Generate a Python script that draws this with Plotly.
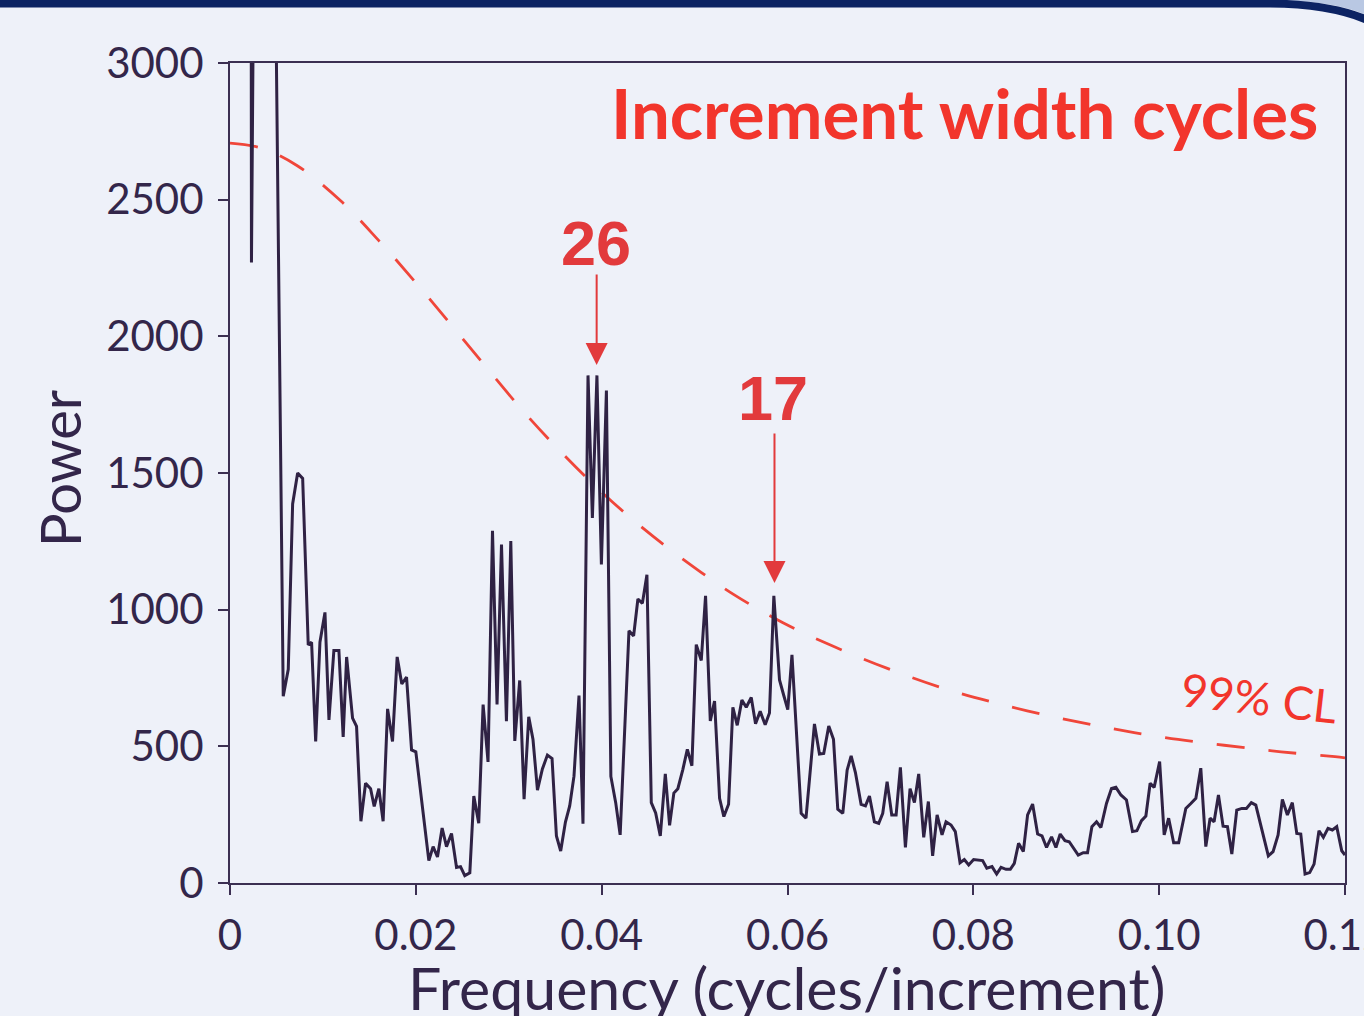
import plotly.graph_objects as go

# ---- data ----
freq = [0, 0.00204, 0.00231, 0.00258, 0.00441, 0.00495, 0.00573, 0.00627, 0.00674, 0.00728,
        0.00782, 0.00842, 0.00878, 0.00922, 0.00968, 0.01022, 0.01065, 0.01118, 0.01172, 0.01218,
        0.01255, 0.01319, 0.01362, 0.01409, 0.01459, 0.01513, 0.01552, 0.01602, 0.01648, 0.01696,
        0.01749, 0.01799, 0.01849, 0.01900, 0.01954, 0.02000, 0.02140, 0.02186, 0.02233, 0.02283,
        0.02330, 0.02384, 0.02438, 0.02481, 0.02527, 0.02581, 0.02624, 0.02677, 0.02724, 0.02777,
        0.02825, 0.02874, 0.02922, 0.02975, 0.03022, 0.03065, 0.03118, 0.03165, 0.03215, 0.03261,
        0.03309, 0.03362, 0.03416, 0.03466, 0.03513, 0.03559, 0.03610, 0.03656, 0.03702, 0.03756,
        0.03799, 0.03853, 0.03900, 0.03949, 0.03997, 0.04051, 0.04099, 0.04151, 0.04199, 0.04294,
        0.04344, 0.04390, 0.04438, 0.04487, 0.04534, 0.04581, 0.04631, 0.04685, 0.04731, 0.04777,
        0.04820, 0.04874, 0.04922, 0.04971, 0.05018, 0.05072, 0.05118, 0.05169, 0.05215, 0.05269,
        0.05315, 0.05366, 0.05412, 0.05459, 0.05509, 0.05556, 0.05610, 0.05656, 0.05706, 0.05760,
        0.05806, 0.05853, 0.05914, 0.05960, 0.06003, 0.06048, 0.06147, 0.06199, 0.06290, 0.06344,
        0.06390, 0.06444, 0.06495, 0.06541, 0.06595, 0.06642, 0.06685, 0.06731, 0.06792, 0.06839,
        0.06882, 0.06935, 0.06982, 0.07025, 0.07072, 0.07122, 0.07169, 0.07215, 0.07269, 0.07319,
        0.07366, 0.07412, 0.07466, 0.07516, 0.07562, 0.07610, 0.07663, 0.07706, 0.07760, 0.07806,
        0.07857, 0.07903, 0.07950, 0.08003, 0.08054, 0.08100, 0.08145, 0.08201, 0.08251, 0.08298,
        0.08352, 0.08398, 0.08441, 0.08487, 0.08538, 0.08584, 0.08638, 0.08692, 0.08739, 0.08788,
        0.08842, 0.08889, 0.08935, 0.08986, 0.09032, 0.09129, 0.09183, 0.09229, 0.09276, 0.09326,
        0.09373, 0.09433, 0.09487, 0.09534, 0.09588, 0.09648, 0.09713, 0.09760, 0.09810, 0.09857,
        0.09903, 0.09946, 0.10005, 0.10054, 0.10102, 0.10156, 0.10210, 0.10287, 0.10341, 0.10395,
        0.10448, 0.10502, 0.10548, 0.10591, 0.10638, 0.10688, 0.10735, 0.10782, 0.10835, 0.10889,
        0.10939, 0.10992, 0.11040, 0.11175, 0.11226, 0.11280, 0.11326, 0.11380, 0.11433, 0.11481,
        0.11524, 0.11570, 0.11620, 0.11667, 0.11720, 0.11767, 0.11817, 0.11864, 0.11911, 0.11965,
        0.12000]

power = [12000, 12000, 2270, 12000, 12000, 3150, 683, 782, 1387, 1500,
         1480, 871, 881, 518, 881, 990, 597, 851, 851, 534,
         827, 603, 573, 226, 365, 345, 280, 345, 226, 637,
         518, 827, 728, 753, 487, 480, 82, 133, 95, 201,
         133, 181, 57, 60, 27, 37, 318, 219, 653, 443,
         1289, 653, 1238, 592, 1251, 520, 741, 307, 608, 525,
         340, 417, 468, 455, 172, 117, 223, 282, 391, 686,
         217, 1857, 1336, 1857, 1165, 1802, 390, 294, 176, 923,
         904, 1039, 1023, 1128, 294, 256, 172, 399, 211, 329,
         345, 416, 489, 429, 872, 814, 1051, 593, 666, 310,
         243, 288, 643, 577, 669, 643, 679, 583, 628, 579,
         622, 1051, 743, 686, 634, 835, 255, 237, 582, 472,
         474, 574, 526, 270, 255, 413, 465, 404, 288, 282,
         318, 224, 218, 255, 371, 249, 249, 423, 130, 345,
         294, 399, 167, 298, 99, 249, 176, 224, 212, 188,
         74, 86, 66, 86, 84, 82, 54, 60, 33, 57,
         50, 50, 72, 145, 115, 249, 289, 179, 172, 130,
         169, 130, 179, 155, 151, 102, 111, 111, 206, 224,
         203, 291, 346, 350, 322, 304, 188, 191, 228, 245,
         365, 350, 444, 176, 237, 147, 147, 273, 291, 310,
         420, 133, 237, 224, 322, 208, 206, 106, 267, 273,
         273, 294, 285, 99, 115, 176, 306, 249, 294, 181,
         179, 33, 38, 69, 191, 167, 200, 194, 206, 118,
         102]

cl_freq = [0, 0.00323, 0.00720, 0.01194, 0.01602, 0.01978, 0.02763, 0.03151, 0.03559, 0.03978,
           0.04441, 0.04914, 0.05419, 0.05946, 0.06505, 0.07075, 0.07645, 0.08226, 0.08849, 0.09462,
           0.10065, 0.10699, 0.11312, 0.11892, 0.12]
cl_power = [2707, 2690, 2625, 2495, 2350, 2205, 1885, 1728, 1578, 1437,
            1299, 1175, 1056, 953, 864, 785, 716, 660, 609, 567,
            532, 504, 480, 462, 458]

x_tickvals = [0, 0.02, 0.04, 0.06, 0.08, 0.10, 0.12]
x_ticktext = ["0", "0.02", "0.04", "0.06", "0.08", "0.10", "0.12"]
y_tickvals = [0, 500, 1000, 1500, 2000, 2500, 3000]

peak_labels = ["26", "17"]
peak_freq = [0.03946, 0.05860]
peak_arrow_tip = [1895, 1098]

# ---- styles ----
BG = "#eef1f9"
INK = "#33264a"
RED = "#f2352c"
RED2 = "#e23a3c"
FONT = "Lato"

fig = go.Figure()
fig.add_trace(go.Scatter(x=cl_freq, y=cl_power, mode="lines", line_shape="spline",
                         line=dict(color="#f0463a", width=2.8, dash="28px,24px"),
                         hoverinfo="skip", showlegend=False))
fig.add_trace(go.Scatter(x=freq, y=power, mode="lines",
                         line=dict(color="#2f2244", width=3),
                         showlegend=False))

axis_common = dict(showline=True, linecolor="#3b2f52", linewidth=2, mirror=True,
                   ticks="outside", ticklen=10, tickwidth=2, tickcolor="#3b2f52",
                   showgrid=False, zeroline=False, ticklabeloverflow="allow",
                   automargin=False,
                   tickfont=dict(family=FONT, size=42, color=INK))

fig.update_xaxes(range=[0, 0.12], tickvals=x_tickvals, ticktext=x_ticktext,
                 ticklabelstandoff=5, **axis_common)
fig.update_yaxes(range=[0, 3000], tickvals=y_tickvals,
                 ticklabelstandoff=6, **axis_common)

ann = []
for lab, fx, tip, off, extra in zip(peak_labels, peak_freq, peak_arrow_tip, [92, 151], [30, 34]):
    ann.append(dict(x=fx, y=tip, xref="x", yref="y", text="", showarrow=True,
                    ax=0, ay=-off, arrowhead=2, arrowsize=2.2, arrowwidth=2,
                    arrowcolor=RED2))
    ann.append(dict(x=fx, y=tip, xref="x", yref="y", text=f"<b>{lab}</b>",
                    showarrow=False, yshift=off + extra, xshift=-1,
                    font=dict(family="Liberation Sans", size=63, color=RED2)))

ann.append(dict(x=0.9776, y=0.9402, xref="paper", yref="paper", xanchor="right",
                yanchor="middle", text="<b>Increment width cycles</b>", showarrow=False,
                font=dict(family=FONT, size=69, color=RED)))
ann.append(dict(x=0.11075, y=677, xref="x", yref="y", text="99% CL", textangle=6.5,
                showarrow=False, font=dict(family=FONT, size=46, color=RED)))
ann.append(dict(x=-0.1535, y=0.506, xref="paper", yref="paper", xanchor="center",
                yanchor="middle", text="Power", textangle=-90, showarrow=False,
                font=dict(family=FONT, size=56, color=INK)))
ann.append(dict(x=0.4987, y=-0.1275, xref="paper", yref="paper", xanchor="center",
                yanchor="middle", text="Frequency (cycles/increment)", showarrow=False,
                font=dict(family=FONT, size=59, color=INK)))

shapes = [
    # light-blue corner outside the rounded frame
    dict(type="path", xref="paper", yref="paper", layer="below",
         path="M 0.93,1.0768 Q 1.0,1.0768 1.0314,1.05 L 1.0314,1.0768 Z",
         fillcolor="#b9c8e3", line=dict(width=0)),
    # dark navy band along the top, bending down at the right corner
    dict(type="path", xref="paper", yref="paper", layer="above",
         path="M -0.21,1.0725 L 0.93,1.0725 Q 0.995,1.0725 1.0314,1.045",
         line=dict(color="#0c2363", width=8)),
]

fig.update_layout(width=1364, height=1016, autosize=False,
                  margin=dict(l=230, r=19, t=63, b=133, autoexpand=False),
                  paper_bgcolor=BG, plot_bgcolor=BG,
                  annotations=ann, shapes=shapes, showlegend=False)

fig.write_html("out.html", config={"displayModeBar": False},
               post_script="document.body.style.margin='0px';"
                           "document.body.style.overflow='hidden';"
                           f"document.body.style.background='{BG}';")
